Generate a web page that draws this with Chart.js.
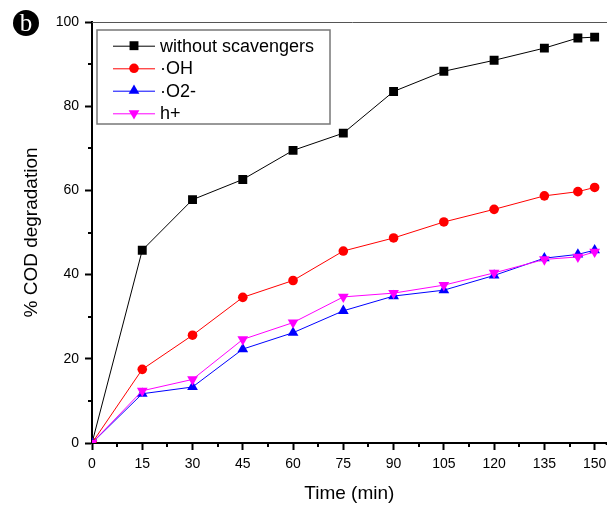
<!DOCTYPE html>
<html>
<head>
<meta charset="utf-8">
<script src="https://cdn.jsdelivr.net/npm/chart.js@4.4.1/dist/chart.umd.min.js"></script>
<style>
  html, body { margin: 0; padding: 0; background: #ffffff; overflow: hidden; }
  #wrap { position: relative; width: 607px; height: 505px; overflow: hidden; }
  #c { position: absolute; left: 0; top: 0; }
  #badge { position: absolute; left: 13px; top: 10px; width: 26px; height: 26px; border-radius: 50%;
           background: #000; color: #fff; font-family: "Liberation Serif", "DejaVu Serif", serif;
           font-size: 25px; line-height: 25px; text-align: center; }
</style>
</head>
<body>
<div id="wrap">
  <canvas id="c" width="613" height="505"></canvas>
  <div id="badge">b</div>
</div>
<script>
const times = [0, 15, 30, 45, 60, 75, 90, 105, 120, 135, 145, 150];
const xTickLabels = ["0", "15", "30", "45", "60", "75", "90", "105", "120", "135", "150"];
const yTickLabels = ["0", "20", "40", "60", "80", "100"];
const seriesNames = ["without scavengers", "\u00B7OH", "\u00B7O2-", "h+"];
const withoutScavengers = [0, 45.8, 57.8, 62.6, 69.5, 73.6, 83.5, 88.3, 90.9, 93.8, 96.2, 96.4];
const hydroxyl = [0, 17.5, 25.6, 34.6, 38.6, 45.6, 48.7, 52.5, 55.5, 58.7, 59.7, 60.7];
const superoxide = [0, 11.7, 13.3, 22.3, 26.2, 31.4, 34.9, 36.3, 39.8, 43.9, 44.8, 45.8];
const holes = [0, 12.4, 15.1, 24.6, 28.6, 34.7, 35.6, 37.5, 40.4, 43.6, 44.2, 45.4];

const FONT = '"Liberation Sans", Arial, sans-serif';

function pts(vals) { return times.map((t, i) => ({ x: t, y: vals[i] })); }

const datasets = [
  { label: seriesNames[0], data: pts(withoutScavengers), borderColor: '#000000', backgroundColor: '#000000',
    pointStyle: 'rect', pointRadius: 6.3, borderWidth: 1, order: 3, pointRotation: 0 },
  { label: seriesNames[1], data: pts(hydroxyl), borderColor: '#ff0000', backgroundColor: '#ff0000',
    pointStyle: 'circle', pointRadius: 4.8, borderWidth: 1, order: 2, pointRotation: 0 },
  { label: seriesNames[2], data: pts(superoxide), borderColor: '#0000ff', backgroundColor: '#0000ff',
    pointStyle: 'triangle', pointRadius: 6.2, borderWidth: 1, order: 1, pointRotation: 0 },
  { label: seriesNames[3], data: pts(holes), borderColor: '#ff00ff', backgroundColor: '#ff00ff',
    pointStyle: 'triangle', pointRadius: 6.2, borderWidth: 1, order: 0, pointRotation: 180 }
];
datasets.forEach(d => { d.pointBorderWidth = 0; d.pointHoverRadius = d.pointRadius; d.tension = 0; d.fill = false; });

const extras = {
  id: 'extras',
  afterDraw(chart) {
    const ctx = chart.ctx;
    const xs = chart.scales.x, ys = chart.scales.y;
    const ca = chart.chartArea;
    ctx.save();
    // top frame line
    ctx.strokeStyle = '#555555';
    ctx.lineWidth = 1;
    ctx.beginPath();
    ctx.moveTo(ca.left, ca.top + 0.5);
    ctx.lineTo(chart.width, ca.top + 0.5);
    ctx.stroke();
    // x axis continues to the edge; minor ticks
    ctx.strokeStyle = '#000';
    ctx.lineWidth = 2;
    ctx.beginPath();
    ctx.moveTo(ca.right - 1, ca.bottom + 1);
    ctx.lineTo(chart.width, ca.bottom + 1);
    for (let v = 7.5; v < xs.max; v += 15) {
      const px = Math.round(xs.getPixelForValue(v));
      ctx.moveTo(px, ca.bottom); ctx.lineTo(px, ca.bottom + 4);
    }
    for (let v = 10; v < ys.max; v += 20) {
      const py = Math.round(ys.getPixelForValue(v));
      ctx.moveTo(ca.left, py); ctx.lineTo(ca.left - 4, py);
    }
    ctx.stroke();
    // legend
    const bx = 97, by = 30, bw = 233, bh = 94;
    ctx.strokeStyle = '#777777';
    ctx.lineWidth = 1.5;
    ctx.strokeRect(bx, by, bw, bh);
    const rows = [45.7, 68.3, 90.7, 113.3];
    ctx.font = '18px ' + FONT;
    ctx.textBaseline = 'middle';
    ctx.textAlign = 'left';
    chart.data.datasets.forEach((d, i) => {
      const y = rows[i];
      ctx.strokeStyle = d.borderColor;
      ctx.lineWidth = 1;
      ctx.beginPath();
      ctx.moveTo(113, y + 0.5); ctx.lineTo(155, y + 0.5);
      ctx.stroke();
      ctx.fillStyle = d.backgroundColor;
      Chart.helpers.drawPoint(ctx, { pointStyle: d.pointStyle, radius: d.pointRadius, rotation: d.pointRotation, borderWidth: 0 }, 134, y);
      ctx.fillStyle = '#000';
      ctx.fillText(d.label, 160, y + 1);
    });
    ctx.restore();
  }
};

new Chart(document.getElementById('c'), {
  type: 'line',
  data: { datasets },
  options: {
    responsive: false,
    animation: false,
    events: [],
    layout: { padding: { top: 22, right: 0, left: 0, bottom: 0 } },
    plugins: { legend: { display: false }, tooltip: { enabled: false } },
    scales: {
      x: {
        type: 'linear', min: 0, max: 153.6,
        afterFit(s) { s.height = 62; },
        afterBuildTicks(s) { s.ticks = xTickLabels.map(l => ({ value: Number(l) })); },
        ticks: { includeBounds: false, autoSkip: false, maxRotation: 0, padding: 6, color: '#000',
                 font: { family: FONT, size: 14 }, callback: (v) => String(v) },
        grid: { display: true, drawOnChartArea: false, drawTicks: true, tickLength: 7, tickWidth: 2, color: '#000' },
        border: { display: true, color: '#000', width: 2 },
        title: { display: true, text: 'Time (min)', color: '#000', font: { family: FONT, size: 19 }, padding: { top: 4, bottom: 0 } }
      },
      y: {
        type: 'linear', min: 0, max: 100,
        afterFit(s) { s.width = 92; },
        afterBuildTicks(s) { s.ticks = yTickLabels.map(l => ({ value: Number(l) })); },
        ticks: { includeBounds: false, autoSkip: false, padding: 6, color: '#000',
                 font: { family: FONT, size: 14 }, callback: (v) => String(v) },
        grid: { display: true, drawOnChartArea: false, drawTicks: true, tickLength: 7, tickWidth: 2, color: '#000' },
        border: { display: true, color: '#000', width: 2 },
        title: { display: true, text: '% COD degradation', color: '#000', font: { family: FONT, size: 19 }, padding: { top: 20, bottom: 0 } }
      }
    }
  },
  plugins: [extras]
});
</script>
</body>
</html>
